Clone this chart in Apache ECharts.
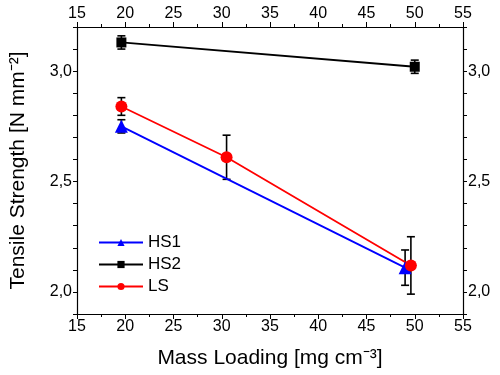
<!DOCTYPE html>
<html>
<head>
<meta charset="utf-8">
<script src="https://cdn.jsdelivr.net/npm/echarts@6/dist/echarts.min.js"></script>
<style>
  html, body { margin: 0; padding: 0; background: #fff; }
  #main { width: 500px; height: 375px; }
</style>
</head>
<body>
<div id="main"></div>
<script>
  // mass loading [mg cm-3] and tensile strength [N mm-2]
  var hs1X = [19.6, 49.0]
  var hs1Y = [2.75, 2.11]
  var hs1Err = [0.03, 0.08]

  var hs2X = [19.6, 50.0]
  var hs2Y = [3.13, 3.02]
  var hs2Err = [0.03, 0.03]

  var lsX = [19.6, 30.5, 49.6]
  var lsY = [2.84, 2.61, 2.12]
  var lsErr = [0.04, 0.10, 0.13]

  var font = 'Liberation Sans, Arial, sans-serif'

  function pairs (xs, ys) {
    return xs.map(function (x, i) { return [x, ys[i]] })
  }
  function errData (xs, ys, es) {
    return xs.map(function (x, i) { return [x, ys[i] - es[i], ys[i] + es[i]] })
  }

  // error bars drawn as custom series
  function errSeries (data) {
    return {
      type: 'custom',
      silent: true,
      z: 1,
      data: data,
      renderItem: function (params, api) {
        var lo = api.coord([api.value(0), api.value(1)])
        var hi = api.coord([api.value(0), api.value(2)])
        var w = 4
        var st = { stroke: '#000', lineWidth: 1.6 }
        return {
          type: 'group',
          children: [
            { type: 'line', shape: { x1: lo[0], y1: lo[1], x2: hi[0], y2: hi[1] }, style: st },
            { type: 'line', shape: { x1: lo[0] - w, y1: lo[1], x2: lo[0] + w, y2: lo[1] }, style: st },
            { type: 'line', shape: { x1: hi[0] - w, y1: hi[1], x2: hi[0] + w, y2: hi[1] }, style: st }
          ]
        }
      }
    }
  }

  var axisLine = { show: true, onZero: false, lineStyle: { color: '#000', width: 1.2 } }
  var xCommon = {
    type: 'value', min: 15, max: 55, interval: 5,
    axisLine: axisLine,
    axisTick: { show: true, inside: false, length: 5, lineStyle: { color: '#000' } },
    minorTick: { show: true, splitNumber: 2, length: 3, lineStyle: { color: '#000' } },
    splitLine: { show: false },
    axisLabel: { color: '#000', fontSize: 16, fontFamily: font, margin: 5 }
  }
  function yLabel (v) {
    var r = Math.round(v * 10)
    if (r % 5 !== 0) return ''
    return (r / 10).toFixed(1).replace('.', ',')
  }
  var yCommon = {
    type: 'value', min: 1.9, max: 3.2, interval: 0.1,
    axisLine: axisLine,
    axisTick: { show: true, inside: false, length: 4, lineStyle: { color: '#000' } },
    splitLine: { show: false },
    axisLabel: { color: '#000', fontSize: 16, fontFamily: font, margin: 5, formatter: yLabel }
  }

  var chart = echarts.init(document.getElementById('main'))
  chart.setOption({
    animation: false,
    backgroundColor: '#fff',
    grid: { left: 70, right: 37, top: 27, bottom: 61 },
    legend: {
      data: ['HS1', 'HS2', 'LS'],
      orient: 'vertical',
      left: 93, top: 229,
      itemWidth: 44, itemHeight: 9, itemGap: 5,
      textStyle: { color: '#000', fontSize: 17, fontFamily: font }
    },
    xAxis: [
      Object.assign({}, xCommon, {
        position: 'bottom',
        name: 'Mass Loading [mg cm⁻³]', nameLocation: 'middle', nameGap: 34,
        nameTextStyle: { color: '#000', fontSize: 21, fontFamily: font }
      }),
      Object.assign({}, xCommon, { position: 'top' })
    ],
    yAxis: [
      Object.assign({}, yCommon, {
        position: 'left',
        name: 'Tensile Strength [N mm⁻²]', nameLocation: 'middle', nameGap: 48,
        nameTextStyle: { color: '#000', fontSize: 21, fontFamily: font }
      }),
      Object.assign({}, yCommon, { position: 'right' })
    ],
    series: [
      errSeries(errData(hs1X, hs1Y, hs1Err)),
      errSeries(errData(hs2X, hs2Y, hs2Err)),
      errSeries(errData(lsX, lsY, lsErr)),
      {
        name: 'HS1', type: 'line', data: pairs(hs1X, hs1Y),
        symbol: 'triangle', symbolSize: 13, z: 3,
        lineStyle: { color: '#0000ff', width: 1.8 }, itemStyle: { color: '#0000ff' }
      },
      {
        name: 'HS2', type: 'line', data: pairs(hs2X, hs2Y),
        symbol: 'rect', symbolSize: 10, z: 3,
        lineStyle: { color: '#000', width: 1.8 }, itemStyle: { color: '#000' }
      },
      {
        name: 'LS', type: 'line', data: pairs(lsX, lsY),
        symbol: 'circle', symbolSize: 12, z: 3,
        lineStyle: { color: '#ff0000', width: 1.8 }, itemStyle: { color: '#ff0000' }
      }
    ]
  })
</script>
</body>
</html>
